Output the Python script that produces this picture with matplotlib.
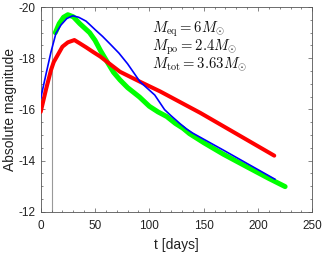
import matplotlib

matplotlib.use("Agg")
import matplotlib.pyplot as plt
from matplotlib.ticker import MultipleLocator

plt.rcParams["font.family"] = ["Liberation Sans", "DejaVu Sans"]
plt.rcParams["mathtext.fontset"] = "cm"
plt.rcParams["axes.unicode_minus"] = False

# light curves (t in days, absolute magnitude)
red_t = [0, 5, 9.5, 12, 14, 20, 25, 31, 36, 42, 48, 55, 61, 73, 91.4, 110, 147, 180, 215]
red_m = [-15.9, -16.8, -17.54, -17.85, -18.0, -18.45, -18.62, -18.71, -18.58, -18.42,
         -18.25, -18.06, -17.86, -17.47, -17.08, -16.7, -15.86, -15.05, -14.19]

green_t = [13.5, 17, 21, 25, 30, 36, 45, 50, 55, 62, 67, 73, 80, 91, 100, 108, 116,
           124, 131, 137, 150, 168, 190, 210, 225]
green_m = [-19.0, -19.35, -19.6, -19.7, -19.62, -19.35, -19.0, -18.7, -18.3, -17.8,
           -17.45, -17.15, -16.85, -16.48, -16.12, -15.9, -15.72, -15.45, -15.26,
           -15.05, -14.7, -14.25, -13.75, -13.3, -12.98]

blue_t = [0, 5, 9.5, 14, 18.7, 24, 29.5, 35, 41.7, 45, 50, 57, 64, 72, 80, 91.4, 105,
          114, 120, 128, 134, 140, 168, 215.6]
blue_m = [-16.43, -17.4, -18.25, -18.97, -19.3, -19.55, -19.66, -19.6, -19.45, -19.32,
          -19.12, -18.85, -18.55, -18.2, -17.78, -17.08, -16.56, -15.99, -15.75,
          -15.45, -15.24, -15.07, -14.41, -13.27]

t_marker = 10

label_lines = [r"$M_{\rm eq} = 6M_{\odot}$",
               r"$M_{\rm po} = 2.4M_{\odot}$",
               r"$M_{\rm tot} = 3.63M_{\odot}$"]

fig = plt.figure(figsize=(3.32, 2.61), dpi=100)
ax = fig.add_axes([0.1226, 0.189, 0.818, 0.784])

ax.axvline(t_marker, color="#999999", linewidth=0.8, zorder=1)
ax.plot(green_t, green_m, color="#00ff00", linewidth=3.6, solid_capstyle="round", zorder=2)
ax.plot(red_t, red_m, color="#ff0000", linewidth=2.9, solid_capstyle="round", zorder=3)
ax.plot(blue_t, blue_m, color="#0000ff", linewidth=1.2, zorder=4)

ax.set_xlim(0, 250)
ax.set_ylim(-12, -20)
ax.set_xticks([0, 50, 100, 150, 200, 250])
ax.set_yticks([-20, -18, -16, -14, -12])
ax.xaxis.set_minor_locator(MultipleLocator(10))
ax.yaxis.set_minor_locator(MultipleLocator(0.5))
ax.tick_params(which="both", direction="in", top=True, right=True, colors="#555555",
               labelcolor="#222222", labelsize=8.5, width=0.5)
ax.tick_params(which="major", length=3)
ax.tick_params(which="minor", length=1.6)
ax.tick_params(axis="x", pad=6)
ax.tick_params(axis="y", pad=4)
for spine in ax.spines.values():
    spine.set_color("#555555")
    spine.set_linewidth(0.6)

ax.set_xlabel("t [days]", fontsize=10, color="#222222", labelpad=4)
ax.set_ylabel("Absolute magnitude", fontsize=10, color="#222222", labelpad=1)

for i, line in enumerate(label_lines):
    ax.text(0.409, 0.878 - i * 0.088, line, transform=ax.transAxes, fontsize=10.6,
            ha="left", va="baseline", color="#111111")

fig.savefig("out.png", dpi=100)
